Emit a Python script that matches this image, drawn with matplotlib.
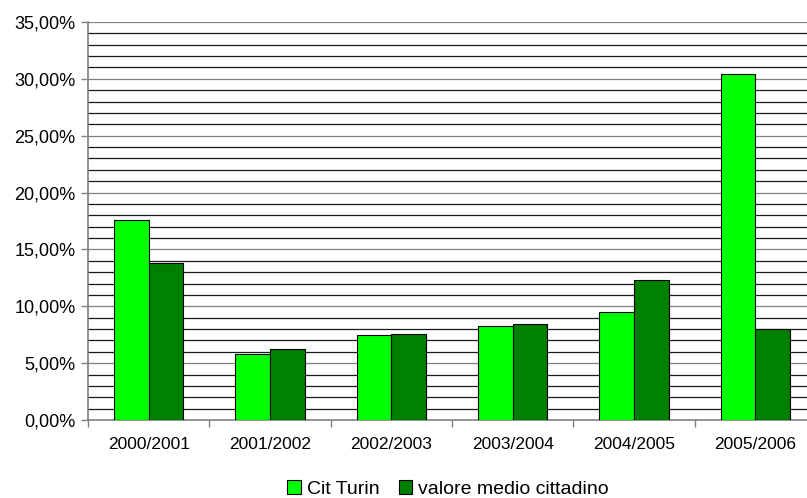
import matplotlib
matplotlib.use("Agg")
import matplotlib.pyplot as plt
import numpy as np
from matplotlib.patches import Patch
from matplotlib.ticker import FuncFormatter, MultipleLocator

plt.rcParams["font.family"] = ["Liberation Sans", "DejaVu Sans"]
plt.rcParams["font.size"] = 12.5

years = ["2000/2001", "2001/2002", "2002/2003", "2003/2004", "2004/2005", "2005/2006"]
cit_turin = [17.6, 5.8, 7.45, 8.3, 9.5, 30.4]
valore_medio = [13.8, 6.25, 7.6, 8.45, 12.3, 8.0]

LIGHT = "#00ff00"
DARK = "#008000"

fig = plt.figure(figsize=(8.07, 4.98), dpi=100)
# right edge of the plot runs slightly past the figure
ax = fig.add_axes([88 / 807, 78 / 498, 728 / 807, 398 / 498])

x = np.arange(len(years))
w = 0.286
ax.bar(x - w / 2, cit_turin, w, color=LIGHT, edgecolor="black", linewidth=0.8, zorder=3)
ax.bar(x + w / 2, valore_medio, w, color=DARK, edgecolor="black", linewidth=0.8, zorder=3)

ax.set_xlim(-0.5, len(years) - 0.5)
ax.set_ylim(0, 35)

# horizontal grid every 1%, darker minor lines, grey at the labelled values
for v in range(1, 36):
    col = "#808080" if v % 5 == 0 else "#1a1a1a"
    ax.axhline(v, color=col, linewidth=0.9, zorder=1)

ax.yaxis.set_major_locator(MultipleLocator(5))
ax.yaxis.set_major_formatter(FuncFormatter(lambda v, _: f"{v:.2f}%".replace(".", ",")))
ax.set_xticks(x)
ax.set_xticklabels(years)
ax.set_xticks(np.arange(len(years) + 1) - 0.5, minor=True)
ax.tick_params(axis="x", which="major", length=0, pad=12)
ax.tick_params(axis="x", which="minor", length=5, color="#808080", width=1)
ax.tick_params(axis="y", length=5, color="#808080", width=1, pad=4, labelsize=13)

for side in ["top", "right"]:
    ax.spines[side].set_visible(False)
for side in ["left", "bottom"]:
    ax.spines[side].set_color("#808080")
    ax.spines[side].set_linewidth(1.2)

handles = [
    Patch(facecolor=LIGHT, edgecolor="black", linewidth=0.8, label="Cit Turin"),
    Patch(facecolor=DARK, edgecolor="black", linewidth=0.8, label="valore medio cittadino"),
]
fig.legend(handles=handles, loc="center", bbox_to_anchor=(448 / 807, 1 - 489 / 498),
           ncol=2, frameon=False, handlelength=0.7, handleheight=0.7,
           handletextpad=0.3, columnspacing=1.0, fontsize=14)

fig.savefig("out.png", dpi=100)
